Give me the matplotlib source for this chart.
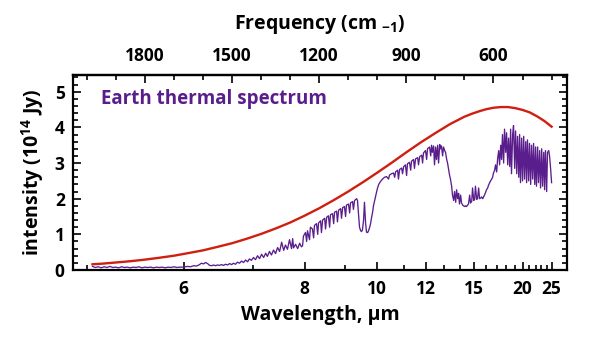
import matplotlib
matplotlib.use('Agg')
import matplotlib.pyplot as plt
from matplotlib.ticker import FixedLocator, NullFormatter, FixedFormatter

plt.rcParams['font.family'] = ['Open Sans', 'DejaVu Sans']
plt.rcParams['font.weight'] = 'bold'
plt.rcParams['mathtext.fontset'] = 'custom'
plt.rcParams['mathtext.rm'] = 'Open Sans:bold'
plt.rcParams['mathtext.it'] = 'Open Sans:bold'
plt.rcParams['mathtext.bf'] = 'Open Sans:bold'
plt.rcParams['mathtext.default'] = 'rm'

# ---------------- data ----------------
# blackbody curve (wavenumber cm-1, intensity 1e14 Jy)
planck_wavenumber = [1980, 1950, 1900, 1850, 1800, 1750, 1700, 1650, 1600, 1550,
                     1500, 1450, 1400, 1350, 1300, 1250, 1200, 1150, 1100, 1050,
                     1000, 950, 900, 850, 800, 750, 700, 675, 650, 625, 600, 575,
                     550, 525, 500, 475, 450, 425, 400]
planck_intensity = [0.16, 0.175, 0.21, 0.246, 0.29, 0.343, 0.40, 0.474, 0.55, 0.648,
                    0.75, 0.874, 1.01, 1.163, 1.33, 1.523, 1.73, 1.958, 2.20, 2.459,
                    2.73, 3.01, 3.30, 3.58, 3.84, 4.09, 4.30, 4.38, 4.45, 4.51, 4.55, 4.57,
                    4.57, 4.54, 4.49, 4.42, 4.31, 4.18, 4.02]

# measured Earth thermal spectrum (wavenumber cm-1, intensity 1e14 Jy)
earth_wavenumber = [
    1980, 1970, 1960, 1950, 1940, 1930, 1920, 1910, 1900, 1890, 1880, 1870, 1860,
    1850, 1840, 1830, 1820, 1810, 1800, 1790, 1780, 1770, 1760, 1750, 1740, 1730,
    1720, 1710, 1700, 1690, 1680, 1670,
    1653, 1643, 1632, 1622, 1612, 1605, 1598, 1591, 1584, 1577, 1570, 1563, 1557,
    1550, 1543, 1536, 1529, 1522, 1515, 1508, 1501, 1495, 1488, 1481, 1474, 1467,
    1460, 1453, 1446, 1440, 1433, 1426, 1419, 1412, 1405, 1398, 1391, 1384, 1378,
    1371, 1364, 1357, 1350, 1343, 1336, 1329, 1322, 1316, 1309, 1302, 1295, 1291,
    1288, 1281, 1274, 1267, 1261, 1257,
    1254, 1247, 1243, 1240, 1233, 1230, 1223, 1219, 1216, 1209, 1205, 1202, 1195,
    1192, 1188, 1181, 1178, 1174, 1168, 1164, 1161, 1154, 1150, 1147, 1140, 1137,
    1133, 1126, 1123, 1119, 1113, 1109, 1106, 1099, 1095, 1092, 1085, 1082, 1078,
    1071, 1068, 1064, 1061, 1057, 1054, 1051, 1047, 1044, 1040, 1037, 1033, 1030,
    1026, 1023, 1020, 1016, 1013, 1009, 1006, 1002, 999, 995, 989, 982, 975, 968,
    961, 958, 951, 944, 940, 937, 930, 927, 923, 916, 913, 909, 903, 899, 896, 889,
    885, 882, 875, 872, 868, 861, 858, 854, 847, 844, 841, 834, 830, 827, 820, 816,
    813, 810, 806, 803, 799, 796, 792, 789, 785, 782, 779, 775, 772, 768, 765, 761,
    758, 754, 751, 748, 744, 741, 737, 734, 730, 727, 723, 720, 717, 713, 710, 706,
    703, 699, 696, 693, 689, 686, 682, 679, 675, 672, 668, 665, 662, 658, 655, 651,
    648, 644, 641, 637, 634, 631, 627, 624, 620, 617, 613, 610, 606, 603, 600, 596,
    593, 589, 586, 582, 579, 575, 572, 569, 565, 562, 558, 555, 551, 548, 544, 541,
    538, 534, 531, 527, 524, 520, 517, 513, 510, 507, 503, 500, 496, 493, 489, 486,
    483, 479, 476, 472, 469, 465, 462, 458, 455, 452, 448, 445, 441, 438, 434, 431,
    427, 424, 421, 417, 414, 410, 407, 403, 400]
earth_intensity = [
    0.10, 0.07, 0.09, 0.06, 0.09, 0.07, 0.10, 0.07, 0.08, 0.06, 0.09, 0.07, 0.08,
    0.06, 0.08, 0.07, 0.09, 0.06, 0.08, 0.07, 0.08, 0.06, 0.08, 0.07, 0.08, 0.06,
    0.08, 0.07, 0.09, 0.07, 0.08, 0.08,
    0.10, 0.09, 0.12, 0.11, 0.15, 0.19, 0.17, 0.21, 0.18, 0.13, 0.12, 0.14, 0.12,
    0.14, 0.13, 0.15, 0.13, 0.16, 0.14, 0.18, 0.15, 0.19, 0.16, 0.22, 0.19, 0.25,
    0.21, 0.28, 0.23, 0.31, 0.27, 0.35, 0.29, 0.40, 0.32, 0.44, 0.35, 0.47, 0.38,
    0.52, 0.42, 0.56, 0.46, 0.63, 0.52, 0.78, 0.55, 0.70, 0.58, 0.85, 0.60, 0.88,
    0.62, 0.72, 0.60, 0.75, 0.65, 0.68,
    0.95, 1.05, 0.80, 1.10, 0.85, 1.20, 1.15, 0.90, 1.25, 1.30, 1.00, 1.32, 1.38,
    1.05, 1.40, 1.45, 1.15, 1.48, 1.52, 1.20, 1.55, 1.58, 1.30, 1.62, 1.65, 1.35,
    1.68, 1.72, 1.45, 1.75, 1.78, 1.50, 1.82, 1.85, 1.60, 1.88, 1.92, 1.70, 1.95,
    2.00, 1.95, 1.50, 1.20, 1.10, 1.08, 1.12, 1.40, 1.90, 1.30, 1.06, 1.05, 1.10,
    1.20, 1.30, 1.45, 1.62, 1.80, 1.95, 2.05, 2.20, 2.30, 2.40, 2.48, 2.55, 2.60, 2.62,
    2.55, 2.66, 2.70, 2.72, 2.60, 2.75, 2.80, 2.55, 2.82, 2.86, 2.70, 2.90, 2.95, 2.65, 2.98, 3.02,
    2.80, 3.05, 3.10, 2.85, 3.12, 3.15, 2.95, 3.18, 3.22, 3.00, 3.28, 3.35, 3.10, 3.40, 3.45, 3.20,
    3.50, 3.30, 3.48, 2.95, 3.45, 3.10, 3.50, 3.00, 3.52, 3.40, 3.48, 3.20, 3.45, 3.35, 3.30, 3.10,
    3.00, 2.80, 2.65, 2.55, 2.35, 2.10, 1.95, 2.20, 1.90, 2.25, 2.00, 2.15, 1.85, 2.10, 1.88, 1.82,
    1.80, 1.78, 1.80, 1.78, 1.82, 1.85, 2.10, 1.88, 1.92, 2.30, 1.95, 1.98, 2.35, 1.98, 2.00, 2.30,
    2.00, 2.02, 2.05, 2.00, 2.05, 2.10, 2.18, 2.25, 2.30, 2.38, 2.45, 2.50, 2.55, 2.60, 2.72, 2.80,
    2.95, 2.75, 3.10, 3.35, 2.95, 3.50, 3.10, 3.80, 3.00, 3.95, 3.30, 3.85, 2.95, 3.70, 2.90, 3.95,
    2.70, 3.80, 4.05, 2.85, 3.90, 2.70, 3.75, 2.60, 3.80, 2.45, 3.70, 2.50, 3.75, 2.55, 3.60, 2.45,
    3.65, 2.50, 3.55, 2.40, 3.50, 2.55, 3.55, 2.40, 3.45, 2.35, 3.45, 2.45, 3.35, 2.30, 3.40, 2.35,
    3.30, 2.25, 3.35, 2.20, 3.30, 3.35, 3.20, 2.80, 2.45]

wavelength_major = [6, 8, 10, 12, 15, 20, 25]
wavelength_minor = [5, 7, 9, 11, 13, 14, 16, 17, 18, 19, 21, 22, 23, 24]
frequency_major = [1800, 1500, 1200, 900, 600]
frequency_minor = [2000, 1900, 1700, 1600, 1400, 1300, 1100, 1000, 800, 700, 500, 400]

label_text = "Earth thermal spectrum"
purple = '#5a1e8c'
red = '#d01e10'

# ---------------- figure ----------------
fig = plt.figure(figsize=(6.0, 3.46), dpi=100)
ax = fig.add_axes([0.1217, 0.2197, 0.8228, 0.5636])

ax.plot(planck_wavenumber, planck_intensity, color=red, lw=1.7, zorder=3,
        solid_joinstyle='round')
ax.plot(earth_wavenumber, earth_intensity, color=purple, lw=0.95, zorder=2)

ax.set_xlim(2047, 348)
ax.set_ylim(0, 5.47)

# bottom axis: wavelength ticks on a wavenumber scale
ax.xaxis.set_major_locator(FixedLocator([1e4 / w for w in wavelength_major]))
ax.xaxis.set_major_formatter(FixedFormatter([str(w) for w in wavelength_major]))
ax.xaxis.set_minor_locator(FixedLocator([1e4 / w for w in wavelength_minor]))
ax.xaxis.set_minor_formatter(NullFormatter())

ax.set_yticks([0, 1, 2, 3, 4, 5])
ax.set_yticks([v / 5 for v in range(0, 28)], minor=True)

ax.tick_params(which='both', direction='in', top=False, right=True, width=1.2,
               labelsize=12.5)
ax.tick_params(which='major', length=6)
ax.tick_params(which='minor', length=3.5)
ax.tick_params(axis='x', pad=7)
ax.tick_params(axis='y', pad=6)
for s in ax.spines.values():
    s.set_linewidth(1.6)

sec = ax.secondary_xaxis('top', functions=(lambda x: x, lambda x: x))
sec.xaxis.set_major_locator(FixedLocator(frequency_major))
sec.xaxis.set_minor_locator(FixedLocator(frequency_minor))
sec.xaxis.set_minor_formatter(NullFormatter())
sec.tick_params(which='both', direction='in', width=1.2, labelsize=12.5, pad=7)
sec.tick_params(which='major', length=6)
sec.tick_params(which='minor', length=3.5)
sec.spines['top'].set_linewidth(1.6)
sec.set_xlabel(r'Frequency (cm $_{-1}$)', fontsize=14, fontweight='bold', labelpad=13)

ax.set_xlabel('Wavelength, \u00b5m', fontsize=14, fontweight='bold', labelpad=5)
ax.set_ylabel(r'intensity (10$^{14}$ Jy)', fontsize=14, fontweight='bold', labelpad=6)

ax.text(0.057, 0.877, label_text, transform=ax.transAxes, color=purple,
        fontsize=13.5, fontweight='bold', va='center', ha='left')

fig.savefig('out.png', dpi=100)
